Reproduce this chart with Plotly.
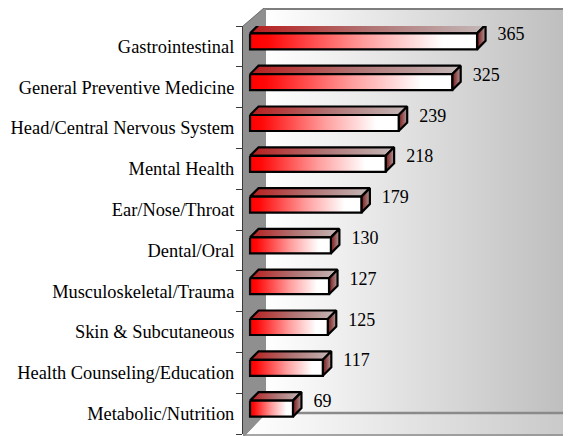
import plotly.graph_objects as go

# ---------------- data ----------------
categories = [
    "Gastrointestinal",
    "General Preventive Medicine",
    "Head/Central Nervous System",
    "Mental Health",
    "Ear/Nose/Throat",
    "Dental/Oral",
    "Musculoskeletal/Trauma",
    "Skin & Subcutaneous",
    "Health Counseling/Education",
    "Metabolic/Nutrition",
]
values = [365, 325, 239, 218, 179, 130, 127, 125, 117, 69]

# ---------------- layout constants (window pixels) ----------------
W, H = 571, 436          # browser window
BODY = 8                 # default <body> margin of the html page
FW, FH = W - BODY, H - BODY   # figure size so that it fits the window exactly

AX_LEFT = 243            # y-axis line (front plane)
AX_TOP, AX_BOT = 26, 434  # category band top / bottom
X_RANGE = [-11.3, 516.0]
Y_RANGE = [len(categories) - 0.5, -0.5]

sx = (W - AX_LEFT) / (X_RANGE[1] - X_RANGE[0])        # px per value unit
sy = (AX_BOT - AX_TOP) / (Y_RANGE[0] - Y_RANGE[1])     # px per category

DEPTH_PX = 8.5
FRONT_H_PX = 16
FRONT_OFF_PX = -5
LABEL_OFF_PX = -11
LABEL_GAP_PX = 12

FONT = "Liberation Serif"

fig = go.Figure()

# ---------------- background 3D box (decoration, pixel axes in window coords) ----------------
bg = dict(xaxis="x", yaxis="y", hoverinfo="skip", showlegend=False, mode="lines")
# back wall
fig.add_trace(go.Scatter(x=[266, 571, 571, 266, 266], y=[6, 6, 413, 413, 6], fill="toself",
                         fillgradient=dict(type="horizontal", colorscale=[[0, "#FFFFFF"], [1, "#BDBDBD"]]),
                         line=dict(width=0), **bg))
# side wall
fig.add_trace(go.Scatter(x=[243, 266, 266, 245, 243, 243], y=[26, 6, 414, 436, 436, 26], fill="toself",
                         fillcolor="#8F8F8F", line=dict(width=0), **bg))
# floor
fig.add_trace(go.Scatter(x=[266, 586, 564, 245, 266], y=[414, 414, 436, 436, 414], fill="toself",
                         fillgradient=dict(type="horizontal", colorscale=[[0, "#FFFFFF"], [1, "#C6C6C6"]]),
                         line=dict(width=0), **bg))
# edges
fig.add_trace(go.Scatter(x=[266, 571], y=[9, 9], line=dict(color="#7E7E7E", width=2), **bg))
fig.add_trace(go.Scatter(x=[266, 571], y=[413, 413], line=dict(color="#8A8A8A", width=2.5), **bg))
fig.add_trace(go.Scatter(x=[245, 564], y=[435, 435], line=dict(color="#8A8A8A", width=1.5), **bg))
fig.add_trace(go.Scatter(x=[586, 564], y=[414, 436], line=dict(color="#8A8A8A", width=1.5), **bg))
fig.add_trace(go.Scatter(x=[243, 264, 266], y=[26, 8, 8], line=dict(color="#6E6E6E", width=1), **bg))

# ---------------- bars (data axes) ----------------
dxu = DEPTH_PX / sx          # depth in value units
dyu = -DEPTH_PX / sy         # depth in category units (upwards)
hu = FRONT_H_PX / sy
offu = FRONT_OFF_PX / sy

common = dict(xaxis="x2", yaxis="y2", hoverinfo="skip", showlegend=False, mode="lines",
              fill="toself", line=dict(color="black", width=2.2))

front_scale = [[0, "#FF0000"], [0.08, "#FF0808"], [0.5, "#FF9C9C"], [0.85, "#FFFFFF"], [1, "#FFFFFF"]]
top_scale = [[0, "#B81C1C"], [0.5, "#B07272"], [1, "#C4B8B8"]]
side_scale = [[0, "#7A1414"], [1, "#B09A9A"]]

for i, (cat, v) in enumerate(zip(categories, values)):
    top = i + offu - hu / 2
    bot = i + offu + hu / 2
    # top face
    fig.add_trace(go.Scatter(
        x=[0, v, v + dxu, dxu, 0], y=[top, top, top + dyu, top + dyu, top],
        fillgradient=dict(type="horizontal", colorscale=top_scale), **common))
    # side face
    fig.add_trace(go.Scatter(
        x=[v, v + dxu, v + dxu, v, v], y=[top, top + dyu, bot + dyu, bot, top],
        fillgradient=dict(type="horizontal", colorscale=side_scale), **common))
    # front face
    fig.add_trace(go.Scatter(
        x=[0, v, v, 0, 0], y=[top, top, bot, bot, top],
        fillgradient=dict(type="horizontal", colorscale=front_scale), **common))

# value labels
fig.add_trace(go.Scatter(
    x=[v + dxu + LABEL_GAP_PX / sx for v in values],
    y=[i + LABEL_OFF_PX / sy for i in range(len(values))],
    text=[str(v) for v in values], mode="text", textposition="middle right",
    textfont=dict(family=FONT, size=18, color="black"),
    xaxis="x2", yaxis="y2", hoverinfo="skip", showlegend=False, cliponaxis=False))

fig.update_layout(
    width=FW, height=FH,
    margin=dict(l=0, r=0, t=0, b=0, pad=0),
    paper_bgcolor="white", plot_bgcolor="rgba(0,0,0,0)",
    template="none",
    font=dict(family=FONT, size=18.4, color="black"),
    xaxis=dict(domain=[0, 1], range=[BODY, W], visible=False, fixedrange=True),
    yaxis=dict(domain=[0, 1], range=[H, BODY], visible=False, fixedrange=True),
    xaxis2=dict(domain=[(AX_LEFT - BODY) / FW, 1], range=X_RANGE, anchor="y2", visible=False),
    yaxis2=dict(domain=[(H - AX_BOT) / FH, (H - AX_TOP) / FH], range=Y_RANGE, anchor="x2",
                tickmode="array", tickvals=list(range(len(categories))), ticktext=categories,
                ticks="", showgrid=False, zeroline=False,
                showline=True, linecolor="#3A3A3A", linewidth=1,
                ticklabelstandoff=4,
                minor=dict(tickmode="array", tickvals=[k - 0.5 for k in range(len(categories) + 1)],
                           ticks="outside", ticklen=6, tickcolor="#3A3A3A", tickwidth=1, showgrid=False),
                tickfont=dict(family=FONT, size=18.4, color="black")),
)

fig.write_html("out.html")
